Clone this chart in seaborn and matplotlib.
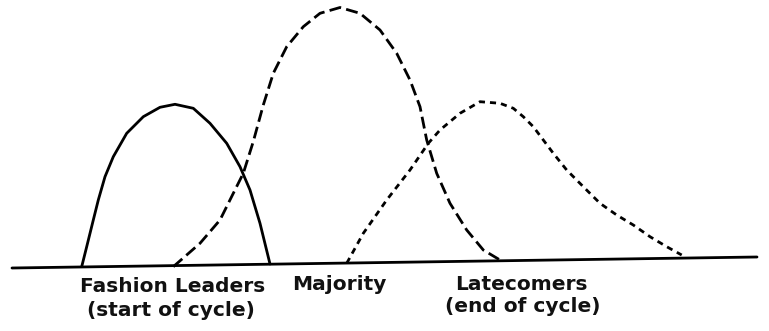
import matplotlib
matplotlib.use("Agg")
import matplotlib.pyplot as plt
import seaborn as sns

# Curve points (x = position along cycle, y = distance from page top, px)
leaders_x = [81.7, 86.7, 93.3, 98.3, 105, 113.3, 126.7, 143.3, 160, 175, 193.3, 210, 226.7, 240, 250, 260, 270]
leaders_y = [266.7, 246.7, 220, 200, 176.7, 156.7, 133.3, 116.7, 107.3, 104.3, 108.3, 123.3, 143.3, 166.7, 190, 223.3, 264]

majority_x = [173.3, 200, 220, 233.3, 243.3, 253.3, 263.3, 273.3, 286.7, 303.3, 320, 340, 360, 380,
              396.7, 410, 420, 426.7, 436.7, 450, 466.7, 483.3, 500]
majority_y = [266.7, 243.3, 220, 193.3, 173.3, 141.5, 105, 73.3, 46.7, 26.7, 13.3, 7.5, 13.3, 30,
              53.3, 80, 106.7, 140, 173.3, 203.3, 230, 250, 260]

late_x = [346.7, 363.3, 386.7, 410, 428.3, 440, 460, 480, 500, 513.3, 523.3, 533.3, 543.3, 553.3,
          566.7, 583.3, 600, 616.7, 633.3, 650, 666.7, 681.7]
late_y = [263.3, 233.3, 200, 170, 143.3, 130, 113.3, 101.7, 103.3, 108.3, 116.7, 126.7, 140, 153.3,
          170, 186.7, 203.3, 215, 225, 236.7, 246.7, 255]

base_x = [12, 757]
base_y = [268, 257]

label_lines = ["Fashion Leaders", "(start of cycle)", "Majority", "Latecomers", "(end of cycle)"]
label_x = [173, 171, 339, 521, 523]
label_y = [286, 311, 285, 284, 307]

sns.set_theme(style="white")
plt.rcParams['font.family'] = ['DejaVu Sans']

fig = plt.figure(figsize=(7.69, 3.31), dpi=100)
ax = fig.add_axes([0, 0, 1, 1])

lw = 2.0
sns.lineplot(x=base_x, y=base_y, ax=ax, color="black", linewidth=2.0, sort=False)
sns.lineplot(x=leaders_x, y=leaders_y, ax=ax, color="black", linewidth=lw, sort=False)
sns.lineplot(x=majority_x, y=majority_y, ax=ax, color="black", linewidth=lw, sort=False,
             linestyle=(0, (4.3, 1.9)))
sns.lineplot(x=late_x, y=late_y, ax=ax, color="black", linewidth=lw, sort=False,
             linestyle=(0, (2.2, 1.8)))

for t, x, y in zip(label_lines, label_x, label_y):
    ax.text(x, y, t, ha="center", va="center", fontsize=14.5, fontweight="bold",
            color="#111111")

ax.set_xlim(0, 769)
ax.set_ylim(331, 0)
ax.axis("off")
fig.savefig("out.png", dpi=100, facecolor="white")
